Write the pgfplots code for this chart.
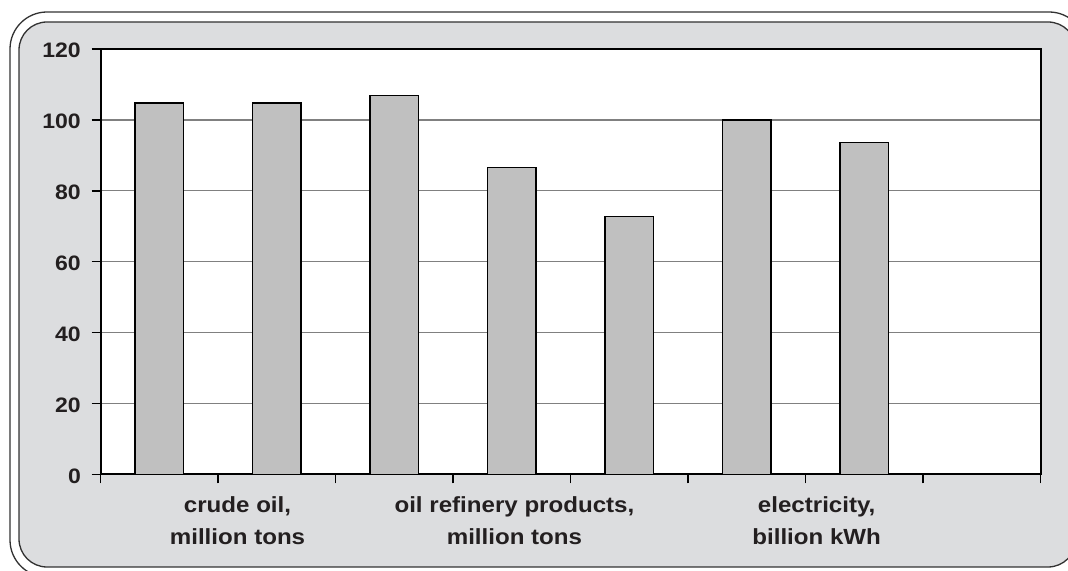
\documentclass[border=0pt]{standalone}
\usepackage{pgfplots}
\pgfplotsset{compat=1.18}
\usepackage{fontspec}
\setmainfont{Liberation Sans}[FakeStretch=1.1]

\definecolor{panel}{RGB}{220,221,223}
\definecolor{framec}{RGB}{50,50,50}
\definecolor{barc}{RGB}{192,192,192}
\definecolor{gridc}{RGB}{128,128,128}
\definecolor{txt}{RGB}{35,31,32}

\newcommand{\ticklabelfont}{\fontsize{21}{25}\selectfont\bfseries}
\newcommand{\catfont}{\fontsize{22}{26}\selectfont\bfseries}

\begin{document}
\begin{tikzpicture}[x=1bp,y=1bp]
% chart area: double rounded frame
\draw[framec, line width=1.3bp, rounded corners=37bp] (10,559) rectangle (1086,-6);
\draw[framec, line width=1.3bp, fill=panel, rounded corners=28bp] (19,549) rectangle (1076,4);

\begin{axis}[
  at={(100.5bp,96.5bp)}, anchor=south west,
  scale only axis, width=940bp, height=425.5bp,
  xmin=-0.5, xmax=7.5, ymin=0, ymax=120,
  xtick={-0.5,0.5,...,7.5}, xticklabels={},
  ytick={0,20,...,120},
  ymajorgrids, grid style={gridc, line width=1.3bp},
  axis line style={black, line width=2bp},
  tick style={black, line width=1.5bp},
  tick align=outside, major tick length=9bp,
  xtick pos=bottom, ytick pos=left,
  axis background/.style={fill=white},
  /pgf/number format/assume math mode=true,
  yticklabel style={font=\ticklabelfont, text=txt, anchor=east, inner sep=0pt, xshift=-10.5bp, yshift=-1.5bp},
  clip=false,
]
\addplot[ybar, bar width=0.41, fill=barc, draw=black, line width=1.5bp]
  coordinates {(0,104.7) (1,104.7) (2,106.9) (3,86.6) (4,72.8) (5,100) (6,93.6)};

% category captions, two lines each
\node[font=\catfont, text=txt, anchor=base, yshift=-38.5bp] at (axis cs:0.666,0) {crude oil,};
\node[font=\catfont, text=txt, anchor=base, yshift=-70.5bp] at (axis cs:0.666,0) {million tons};
\node[font=\catfont, text=txt, anchor=base, yshift=-38.5bp] at (axis cs:3.023,0) {oil refinery products,};
\node[font=\catfont, text=txt, anchor=base, yshift=-70.5bp] at (axis cs:3.023,0) {million tons};
\node[font=\catfont, text=txt, anchor=base, yshift=-38.5bp] at (axis cs:5.595,0) {electricity,};
\node[font=\catfont, text=txt, anchor=base, yshift=-70.5bp] at (axis cs:5.595,0) {billion kWh};
\end{axis}

\pgfresetboundingbox
\useasboundingbox (0,0) rectangle (1068,571);
\end{tikzpicture}
\end{document}
